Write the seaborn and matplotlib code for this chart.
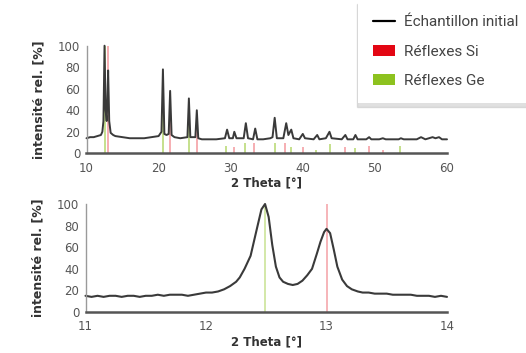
import matplotlib
matplotlib.use("Agg")
import matplotlib.pyplot as plt
import seaborn as sns
import pandas as pd
from matplotlib.lines import Line2D
from matplotlib.patches import Patch
from matplotlib.ticker import MultipleLocator

# ---------------- data ----------------
# overview scan (top panel)
top_theta = [10.0, 10.5, 11.0, 11.5, 12.0, 12.2, 12.35, 12.5, 12.65, 12.8, 12.9, 13.0, 13.15, 13.35,
             13.7, 14.0, 15.0, 16.0, 17.0, 18.0, 19.0, 20.0, 20.4, 20.6, 20.8, 21.1, 21.4, 21.6, 21.8,
             22.2, 23.0, 24.0, 24.2, 24.4, 25.1, 25.3, 25.5, 26.0, 27.0, 28.0, 29.2, 29.5, 29.8,
             30.3, 30.5, 30.8, 31.8, 32.1, 32.4, 33.1, 33.4, 33.7, 34.5, 35.5, 35.8, 36.1, 36.4,
             37.3, 37.7, 38.0, 38.4, 38.7, 39.5, 40.0, 40.3, 41.5, 42.0, 42.3, 43.2, 43.7, 44.0,
             45.4, 45.9, 46.2, 47.0, 47.3, 47.6, 48.8, 49.2, 49.5, 50.6, 51.1, 51.5, 52.5, 53.3,
             53.6, 54.0, 55.0, 55.8, 56.4, 57.0, 57.5, 58.0, 58.4, 58.9, 59.3, 60.0]
top_int = [14, 15, 15, 16, 17, 20, 30, 100, 40, 30, 50, 77, 30, 19,
           17, 16, 15, 14, 14, 14, 15, 16, 20, 78, 18, 17, 18, 58, 17,
           15, 14, 15, 51, 15, 15, 40, 14, 13, 13, 13, 14, 22, 14,
           14, 20, 14, 14, 28, 14, 13, 23, 13, 13, 14, 15, 33, 14,
           14, 28, 17, 22, 14, 13, 18, 14, 13, 17, 13, 14, 20, 14,
           13, 17, 13, 13, 17, 13, 13, 15, 13, 13, 14, 13, 13, 13,
           14, 13, 13, 13, 15, 13, 14, 15, 14, 15, 13, 13]

# reference reflexes (top panel)
si_theta = [13.0, 21.6, 25.3, 30.4, 33.3, 37.6, 40.0, 45.8, 49.2, 51.1]
si_int = [100, 57, 30, 6, 10, 10, 6, 6, 7, 3]
ge_theta = [12.5, 20.6, 24.2, 29.4, 32.0, 36.1, 38.3, 41.9, 43.8, 47.3, 53.5]
ge_int = [100, 57, 40, 7, 10, 10, 6, 3, 9, 5, 7]

# zoomed scan (bottom panel)
zoom_theta = [11.0, 11.05, 11.1, 11.15, 11.2, 11.25, 11.3, 11.35, 11.4, 11.45, 11.5, 11.55, 11.6,
              11.65, 11.7, 11.75, 11.8, 11.85, 11.9, 11.95, 12.0, 12.05, 12.1, 12.15, 12.2, 12.25,
              12.28, 12.32, 12.37, 12.42, 12.46, 12.49, 12.52, 12.55, 12.58, 12.61, 12.64, 12.68,
              12.72, 12.76, 12.8, 12.84, 12.88, 12.92, 12.95, 12.98, 13.0, 13.03, 13.06, 13.09,
              13.13, 13.17, 13.21, 13.26, 13.3, 13.35, 13.4, 13.45, 13.5, 13.55, 13.6, 13.65,
              13.7, 13.75, 13.8, 13.85, 13.9, 13.95, 14.0]
zoom_int = [15, 14, 15, 14, 15, 15, 14, 15, 15, 14, 15, 15, 16,
            15, 16, 16, 16, 15, 16, 17, 18, 18, 19, 21, 24, 28,
            32, 40, 52, 76, 95, 100, 88, 62, 42, 32, 28, 26,
            25, 26, 29, 34, 40, 54, 65, 74, 77, 73, 58, 42,
            30, 24, 21, 19, 18, 18, 17, 17, 17, 16, 16, 16,
            16, 15, 15, 15, 14, 15, 14]
zoom_si = [13.0]
zoom_si_int = [100]
zoom_ge = [12.49]
zoom_ge_int = [100]

legend_labels = ["Échantillon initial", "Réflexes Si", "Réflexes Ge"]

# ---------------- style ----------------
sns.set_theme(style="white")
plt.rcParams["font.family"] = ["DejaVu Sans"]

RED = "#e30613"
GREEN = "#8dc21f"
TRACE = "#3a3a3a"
TICKC = "#555555"
LABC = "#333333"

fig = plt.figure(figsize=(5.26, 3.53), dpi=100)
ax1 = fig.add_axes([86.5 / 526, 1 - 153.3 / 353, (447 - 86.5) / 526, (153.3 - 45.7) / 353])
ax2 = fig.add_axes([85.5 / 526, 1 - 312 / 353, (447 - 85.5) / 526, (312 - 204) / 353])

df_top = pd.DataFrame({"theta": top_theta, "I": top_int})
df_zoom = pd.DataFrame({"theta": zoom_theta, "I": zoom_int})


def style_axes(ax, xmin, xmax, major, minor):
    ax.set_xlim(xmin, xmax)
    ax.set_ylim(0, 100)
    for s in ["top", "right"]:
        ax.spines[s].set_visible(False)
    ax.spines["left"].set_color("#9a9a9a")
    ax.spines["left"].set_linewidth(1.0)
    ax.spines["bottom"].set_color("#555555")
    ax.spines["bottom"].set_linewidth(1.8)
    ax.xaxis.set_major_locator(MultipleLocator(major))
    ax.xaxis.set_minor_locator(MultipleLocator(minor))
    ax.yaxis.set_major_locator(MultipleLocator(20))
    ax.yaxis.set_minor_locator(MultipleLocator(10))
    ax.tick_params(axis="both", which="major", direction="inout", length=5, width=1,
                   color="#777777", labelsize=8.5, labelcolor=TICKC, pad=2)
    ax.tick_params(axis="x", which="major", pad=3.5)
    ax.tick_params(axis="both", which="minor", direction="inout", length=3, width=1,
                   color="#888888")
    ax.grid(False)
    ax.set_facecolor("none")
    ax.set_ylabel("intensité rel. [%]", fontsize=9, fontweight="bold", color=LABC, labelpad=9)
    ax.set_xlabel("2 Theta [°]", fontsize=8.5, fontweight="bold", color=LABC, labelpad=1.5)


# top panel
ax1.vlines(ge_theta, 0, ge_int, colors=GREEN, alpha=0.55, linewidth=1.3, zorder=1)
ax1.vlines(si_theta, 0, si_int, colors=RED, alpha=0.35, linewidth=1.3, zorder=1)
sns.lineplot(data=df_top, x="theta", y="I", ax=ax1, color=TRACE, linewidth=1.4, zorder=2,
             estimator=None, sort=False)
style_axes(ax1, 10, 60, 10, 5)
for ln in ax1.lines:
    ln.set_clip_on(False)

# bottom panel
ax2.vlines(zoom_ge, 0, zoom_ge_int, colors=GREEN, alpha=0.45, linewidth=1.2, zorder=1)
ax2.vlines(zoom_si, 0, zoom_si_int, colors=RED, alpha=0.35, linewidth=1.2, zorder=1)
sns.lineplot(data=df_zoom, x="theta", y="I", ax=ax2, color=TRACE, linewidth=1.5, zorder=2,
             estimator=None, sort=False)
style_axes(ax2, 11, 14, 1, 0.5)
for ln in ax2.lines:
    ln.set_clip_on(False)

# legend
handles = [Line2D([0], [0], color="black", lw=1.6),
           Patch(facecolor=RED, edgecolor="none"),
           Patch(facecolor=GREEN, edgecolor="none")]
leg = fig.legend(handles, legend_labels, loc="upper left", bbox_to_anchor=(358 / 526, 1.0),
                 frameon=True, fancybox=False,
                 shadow={"ox": -1, "oy": -3, "color": "#bbbbbb", "alpha": 0.45},
                 prop={"family": ["Roboto", "DejaVu Sans"], "size": 11},
                 handlelength=1.45, handleheight=0.75, handletextpad=0.55, labelspacing=1.0,
                 borderpad=1.0, borderaxespad=0)
leg.get_frame().set_edgecolor("none")
leg.get_frame().set_facecolor("white")
for t in leg.get_texts():
    t.set_color("#444444")

fig.savefig("out.png", dpi=100)
